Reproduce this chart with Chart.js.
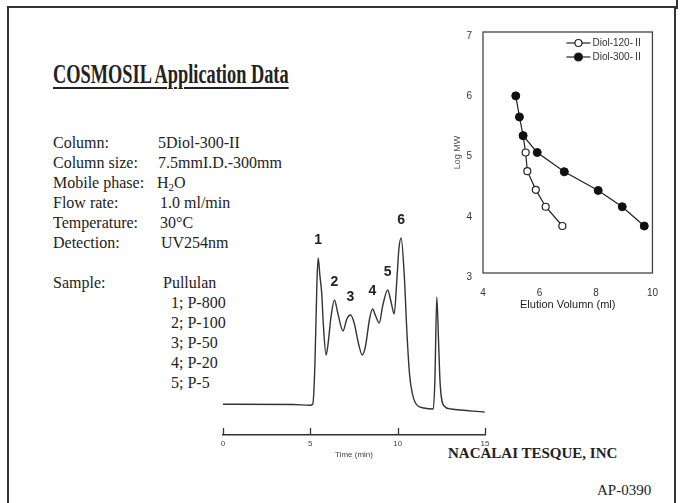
<!DOCTYPE html>
<html>
<head>
<meta charset="utf-8">
<script src="https://cdn.jsdelivr.net/npm/chart.js@4.4.1/dist/chart.umd.min.js"></script>
<style>
  body { margin: 0; background: #fff; }
  #page { position: relative; width: 683px; height: 503px; overflow: hidden;
          font-family: "Liberation Serif", "Times New Roman", serif; color: #222; }
  .frame { position: absolute; left: 7px; top: 6px; width: 669px; height: 540px;
           border: 2px solid #333; box-sizing: border-box; }
  .nick { position: absolute; left: 676px; top: 0; width: 2px; height: 9px; background: #333; }
  .title { position: absolute; left: 53px; top: 61px; font-size: 27px; line-height: 27px;
           font-weight: bold; white-space: nowrap; transform: scaleX(0.68); transform-origin: left top;
           text-decoration: underline; text-decoration-thickness: 2px; text-underline-offset: 4px; }
  .t { position: absolute; font-size: 16px; line-height: 20px; white-space: nowrap; }
  .foot { position: absolute; font-size: 15px; line-height: 20px; white-space: nowrap; }
  .box { position: absolute; }
</style>
</head>
<body>
<div id="page">
  <div class="frame"></div>
  <div class="nick"></div>
  <div class="title">COSMOSIL Application Data</div>

  <div class="t" style="left:53px;top:133px">Column:</div>
  <div class="t" style="left:158px;top:133px">5Diol-300-II</div>
  <div class="t" style="left:53px;top:153px">Column size:</div>
  <div class="t" style="left:158px;top:153px">7.5mmI.D.-300mm</div>
  <div class="t" style="left:53px;top:173px">Mobile phase:</div>
  <div class="t" style="left:157px;top:173px">H<sub style="font-size:11px;vertical-align:-3px">2</sub>O</div>
  <div class="t" style="left:53px;top:193px">Flow rate:</div>
  <div class="t" style="left:160px;top:193px">1.0 ml/min</div>
  <div class="t" style="left:53px;top:213px">Temperature:</div>
  <div class="t" style="left:160px;top:213px">30°C</div>
  <div class="t" style="left:53px;top:233px">Detection:</div>
  <div class="t" style="left:161px;top:233px">UV254nm</div>

  <div class="t" style="left:53px;top:273px">Sample:</div>
  <div class="t" style="left:163px;top:273px">Pullulan</div>
  <div class="t" style="left:171px;top:293px">1; P-800</div>
  <div class="t" style="left:171px;top:313px">2; P-100</div>
  <div class="t" style="left:171px;top:333px">3; P-50</div>
  <div class="t" style="left:171px;top:353px">4; P-20</div>
  <div class="t" style="left:171px;top:373px">5; P-5</div>

  <div class="foot" style="left:448px;top:443px;font-weight:bold">NACALAI TESQUE, INC</div>
  <div class="foot" style="left:597px;top:480px">AP-0390</div>

  <div class="box" style="left:203px;top:200px;width:299px;height:270px"><canvas id="chromChart"></canvas></div>
  <div class="box" style="left:440px;top:15px;width:232px;height:307px"><canvas id="calibChart"></canvas></div>
</div>

<script>
// chromatogram trace (time in min, detector signal in arbitrary units)
const timeMin = [0, 4.04, 4.97, 5.14, 5.26, 5.38, 5.45, 5.55, 5.65, 5.75, 5.90, 6.00, 6.19, 6.38,
  6.57, 6.87, 7.09, 7.30, 7.51, 7.75, 7.97, 8.16, 8.39, 8.56, 8.74, 8.95, 9.14, 9.43, 9.61, 9.80,
  9.95, 10.07, 10.20, 10.38, 10.54, 10.69, 11.02, 11.50, 12.04, 12.13, 12.24, 12.34, 12.43, 12.66,
  13.04, 14.98];
const signal = [0.7, 0.5, -0.3, 1, 39, 124, 147, 129, 112, 79, 50, 59, 89, 105,
  92, 74, 86, 90, 82, 62, 50, 59, 86, 96, 89, 82, 99, 115, 104, 91,
  124, 156, 167, 129, 69, 29, 2, -3, -4, 24, 108, 64, 22, -1,
  -4, -7];
const peakNames = ['1', '2', '3', '4', '5', '6'];
const peakTimes = [5.45, 6.38, 7.30, 8.56, 9.43, 10.20];
const peakHeights = [147, 105, 90, 96, 115, 167];
const timeTicks = [0, 5, 10, 15];

// calibration curves
const elutionDiol120 = [5.42, 5.51, 5.57, 5.87, 6.22, 6.81];
const logMwDiol120 = [5.28, 5.00, 4.69, 4.38, 4.10, 3.78];
const elutionDiol300 = [5.16, 5.29, 5.42, 5.92, 6.88, 8.08, 8.93, 9.71];
const logMwDiol300 = [5.94, 5.59, 5.28, 5.00, 4.68, 4.37, 4.10, 3.78];

const ink = '#333';
const sans = '"Liberation Sans", Arial, "Noto Sans CJK JP", sans-serif';

function toPoints(xs, ys) {
  return xs.map((x, i) => ({ x: x, y: ys[i] }));
}

// up-pointing tick marks + peak numbers on the chromatogram
const chromExtras = {
  id: 'chromExtras',
  afterDatasetsDraw(chart) {
    const ctx = chart.ctx;
    const xs = chart.scales.x;
    const ys = chart.scales.y;
    const bottom = chart.chartArea.bottom;
    ctx.save();
    ctx.strokeStyle = ink;
    ctx.lineWidth = 1.3;
    timeTicks.forEach(t => {
      const px = Math.round(xs.getPixelForValue(t)) + 0.5;
      ctx.beginPath();
      ctx.moveTo(px, bottom);
      ctx.lineTo(px, bottom - 7);
      ctx.stroke();
    });
    ctx.fillStyle = '#222';
    ctx.font = 'bold 14px ' + sans;
    ctx.textAlign = 'center';
    ctx.textBaseline = 'middle';
    peakNames.forEach((name, i) => {
      ctx.fillText(name, xs.getPixelForValue(peakTimes[i]), ys.getPixelForValue(peakHeights[i]) - 18);
    });
    ctx.restore();
  }
};

new Chart(document.getElementById('chromChart'), {
  type: 'line',
  data: {
    datasets: [{
      data: toPoints(timeMin, signal),
      borderColor: ink,
      borderWidth: 1.4,
      pointRadius: 0,
      cubicInterpolationMode: 'monotone',
      fill: false
    }]
  },
  options: {
    responsive: true,
    maintainAspectRatio: false,
    animation: false,
    layout: { padding: { left: 20, right: 17, top: 25, bottom: 10 } },
    plugins: { legend: { display: false }, tooltip: { enabled: false } },
    scales: {
      x: {
        type: 'linear', min: 0, max: 15,
        afterFit: s => { s.height = 25; },
        grid: { display: false, drawTicks: false },
        border: { display: true, color: ink, width: 1.4 },
        ticks: { stepSize: 5, padding: 4, color: '#444', font: { size: 8, family: sans } },
        title: { display: true, text: 'Time (min)', color: '#444', padding: { top: 0, bottom: 0 },
                 font: { size: 8, family: sans } }
      },
      y: { display: false, min: -30, max: 180 }
    }
  },
  plugins: [chromExtras]
});

// frame round the plot area + legend with line and marker samples
const calibExtras = {
  id: 'calibExtras',
  afterDatasetsDraw(chart) {
    const ctx = chart.ctx;
    const a = chart.chartArea;
    ctx.save();
    ctx.strokeStyle = '#444';
    ctx.lineWidth = 1.3;
    ctx.strokeRect(a.left, a.top, a.right - a.left, a.bottom - a.top);
    ctx.font = '10px ' + sans;
    ctx.textBaseline = 'middle';
    chart.data.datasets.forEach((ds, i) => {
      const y = a.top + 11 + i * 14;
      ctx.strokeStyle = ds.borderColor;
      ctx.lineWidth = ds.borderWidth;
      ctx.beginPath();
      ctx.moveTo(a.right - 86, y);
      ctx.lineTo(a.right - 62, y);
      ctx.stroke();
      ctx.beginPath();
      ctx.arc(a.right - 74, y, ds.pointRadius, 0, Math.PI * 2);
      ctx.fillStyle = ds.pointBackgroundColor;
      ctx.fill();
      ctx.stroke();
      ctx.fillStyle = '#333';
      ctx.fillText(ds.label, a.right - 60, y);
    });
    ctx.restore();
  }
};

new Chart(document.getElementById('calibChart'), {
  type: 'line',
  data: {
    datasets: [{
      label: 'Diol-120-Ⅱ',
      data: toPoints(elutionDiol120, logMwDiol120),
      borderColor: '#222', borderWidth: 1.2,
      pointRadius: 3.5, pointBackgroundColor: '#fff', pointBorderColor: '#222', pointBorderWidth: 1.2,
      order: 1
    }, {
      label: 'Diol-300-Ⅱ',
      data: toPoints(elutionDiol300, logMwDiol300),
      borderColor: '#222', borderWidth: 1.2,
      pointRadius: 4, pointBackgroundColor: '#111', pointBorderColor: '#111', pointBorderWidth: 1,
      order: 0
    }]
  },
  options: {
    responsive: true,
    maintainAspectRatio: false,
    animation: false,
    layout: { padding: { left: 12, right: 15, top: 14, bottom: 10 } },
    plugins: { legend: { display: false }, tooltip: { enabled: false } },
    scales: {
      x: {
        type: 'linear', min: 4, max: 10,
        afterFit: s => { s.height = 39; },
        grid: { display: false, drawTicks: false },
        border: { display: false },
        ticks: { stepSize: 2, padding: 14, color: '#333', font: { size: 10, family: sans } },
        title: { display: true, text: 'Elution Volumn (ml)', color: '#222', padding: { top: 0, bottom: 0 },
                 font: { size: 11, family: sans } }
      },
      y: {
        min: 3, max: 7,
        afterFit: s => { s.width = 31; },
        grid: { display: false, drawTicks: false },
        border: { display: false },
        ticks: { stepSize: 1, padding: 11, labelOffset: 4, color: '#333', font: { size: 10, family: sans } },
        title: { display: true, text: 'Log MW', color: '#555', padding: { top: 0, bottom: 0 },
                 font: { size: 9, family: sans } }
      }
    }
  },
  plugins: [calibExtras]
});
</script>
</body>
</html>
